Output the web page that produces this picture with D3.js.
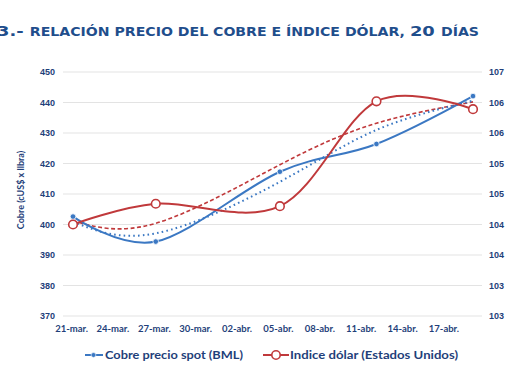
<!DOCTYPE html>
<html><head><meta charset="utf-8">
<script src="https://cdn.jsdelivr.net/npm/d3@7"></script>
<style>
html,body{margin:0;padding:0;background:#fff;}
svg{display:block;}
</style>
</head><body>
<svg id="c" width="510" height="382"></svg>
<script>
// ---- data ----
const dates = ["2017-03-21", "2017-03-27", "2017-04-05", "2017-04-12", "2017-04-19"];
const copper = [402.6, 394.4, 417.3, 426.4, 442.1];
const dollar = [104.50, 104.84, 104.80, 106.52, 106.39];
const copperTrend = [400.9, 397.1, 414.0, 431.0, 440.6];
const dollarTrend = [104.56, 104.52, 105.48, 106.16, 106.51];
const tickDates = ["2017-03-21","2017-03-24","2017-03-27","2017-03-30","2017-04-02","2017-04-05","2017-04-08","2017-04-11","2017-04-14","2017-04-17"];
const tickLabels = ["21-mar.","24-mar.","27-mar.","30-mar.","02-abr.","05-abr.","08-abr.","11-abr.","14-abr.","17-abr."];
const leftTicks = [370,380,390,400,410,420,430,440,450];
const rightTicks = [103,103.5,104,104.5,105,105.5,106,106.5,107];
const rightLabels = ["103","103","104","104","105","105","106","106","107"];
const seriesNames = ["Cobre precio spot (BML)", "Indice dólar (Estados Unidos)"];
// title parts: [text, isLarge]
const titleParts = [["3.- ", true], ["RELACIÓN PRECIO DEL COBRE E ÍNDICE DÓLAR, ", false], ["20 ", true], ["DÍAS", false]];
const yTitle = "Cobre (cUS$ x llbra)";

const BLUE = "#3B78C3", RED = "#C0393B", TXT = "#1F3F7A";
const parse = d3.utcParse("%Y-%m-%d");
const svg = d3.select("#c");

const x = d3.scaleUtc().domain([parse(dates[0]), parse(dates[dates.length-1])]).range([73, 473]);
const yL = d3.scaleLinear().domain([370, 450]).range([316, 72]);
const yR = d3.scaleLinear().domain([103, 107]).range([316, 72]);

// title
const tt = svg.append("text").attr("x", -3).attr("y", 36)
  .attr("font-family", "DejaVu Sans").attr("font-weight", "bold")
  .attr("fill", "#1F4E8C").attr("textLength", 482).attr("lengthAdjust", "spacingAndGlyphs");
titleParts.forEach(([t, big]) => tt.append("tspan").attr("font-size", big ? 14.7 : 11.6).text(t));

// gridlines
svg.append("g").selectAll("line").data(leftTicks).join("line")
  .attr("x1", 63).attr("x2", 482)
  .attr("y1", d => yL(d)).attr("y2", d => yL(d))
  .attr("stroke", "#E3E3E3").attr("stroke-width", 1);

// left axis
const gl = svg.append("g").attr("transform", "translate(58,0)")
  .call(d3.axisLeft(yL).tickValues(leftTicks).tickSize(0).tickPadding(3).tickFormat(d3.format("d")));
gl.select(".domain").remove();
gl.selectAll("text").attr("font-family", "Liberation Sans").attr("font-weight", "bold")
  .attr("font-size", 9).attr("fill", TXT);

// right axis
const gr = svg.append("g").attr("transform", "translate(486,0)")
  .call(d3.axisRight(yR).tickValues(rightTicks).tickSize(0).tickPadding(3)
    .tickFormat((d, i) => rightLabels[i]));
gr.select(".domain").remove();
gr.selectAll("text").attr("font-family", "Liberation Sans").attr("font-weight", "bold")
  .attr("font-size", 9).attr("fill", TXT);

// x axis
const gx = svg.append("g").attr("transform", "translate(-2,318)")
  .call(d3.axisBottom(x).tickValues(tickDates.map(parse)).tickSize(0).tickPadding(7)
    .tickFormat((d, i) => tickLabels[i]));
gx.select(".domain").remove();
gx.selectAll("text").attr("font-family", "Lato").attr("font-weight", "bold")
  .attr("font-size", 9.5).attr("fill", TXT);

// y title
svg.append("text").attr("transform", "translate(24,190) rotate(-90)")
  .attr("text-anchor", "middle").attr("font-family", "Lato").attr("font-weight", "bold")
  .attr("font-size", 9).attr("fill", TXT).text(yTitle);

const cu = dates.map((d, i) => ({d: parse(d), v: copper[i], t: copperTrend[i]}));
const dl = dates.map((d, i) => ({d: parse(d), v: dollar[i], t: dollarTrend[i]}));

// trendlines
svg.append("path").datum(dl)
  .attr("d", d3.line().x(p => x(p.d)).y(p => yR(p.t)).curve(d3.curveNatural))
  .attr("fill", "none").attr("stroke", RED).attr("stroke-width", 1.6).attr("stroke-dasharray", "4,2.5");
svg.append("path").datum(cu)
  .attr("d", d3.line().x(p => x(p.d)).y(p => yL(p.t)).curve(d3.curveNatural))
  .attr("fill", "none").attr("stroke", BLUE).attr("stroke-width", 2).attr("stroke-dasharray", "1.6,3.2")
  .attr("stroke-linecap", "butt");

// series lines
svg.append("path").datum(cu)
  .attr("d", d3.line().x(p => x(p.d)).y(p => yL(p.v)).curve(d3.curveCatmullRom.alpha(0)))
  .attr("fill", "none").attr("stroke", BLUE).attr("stroke-width", 2);
svg.append("path").datum(dl)
  .attr("d", d3.line().x(p => x(p.d)).y(p => yR(p.v)).curve(d3.curveCatmullRom.alpha(0)))
  .attr("fill", "none").attr("stroke", RED).attr("stroke-width", 2);

// markers
svg.append("g").selectAll("circle").data(cu).join("circle")
  .attr("cx", p => x(p.d)).attr("cy", p => yL(p.v)).attr("r", 2.8)
  .attr("fill", BLUE).attr("stroke", "#fff").attr("stroke-width", 0.8);
svg.append("g").selectAll("circle").data(dl).join("circle")
  .attr("cx", p => x(p.d)).attr("cy", p => yR(p.v)).attr("r", 4.3)
  .attr("fill", "#fff").attr("stroke", RED).attr("stroke-width", 1.6);

// legend
const lg = svg.append("g").attr("transform", "translate(0,355)");
lg.append("line").attr("x1", 85).attr("x2", 103).attr("stroke", BLUE).attr("stroke-width", 2);
lg.append("circle").attr("cx", 93.5).attr("r", 2.4).attr("fill", BLUE).attr("stroke", "#fff").attr("stroke-width", 0.6);
lg.append("text").attr("x", 105).attr("y", 4.2).attr("font-family", "Lato").attr("font-weight", "bold")
  .attr("font-size", 11.8).attr("fill", TXT).attr("textLength", 138).attr("lengthAdjust", "spacingAndGlyphs")
  .text(seriesNames[0]);
lg.append("line").attr("x1", 263).attr("x2", 289).attr("stroke", RED).attr("stroke-width", 2);
lg.append("circle").attr("cx", 276).attr("r", 4.2).attr("fill", "#fff").attr("stroke", RED).attr("stroke-width", 1.6);
lg.append("text").attr("x", 290).attr("y", 4.2).attr("font-family", "Lato").attr("font-weight", "bold")
  .attr("font-size", 11.8).attr("fill", TXT).attr("textLength", 168).attr("lengthAdjust", "spacingAndGlyphs")
  .text(seriesNames[1]);
</script>
</body></html>
